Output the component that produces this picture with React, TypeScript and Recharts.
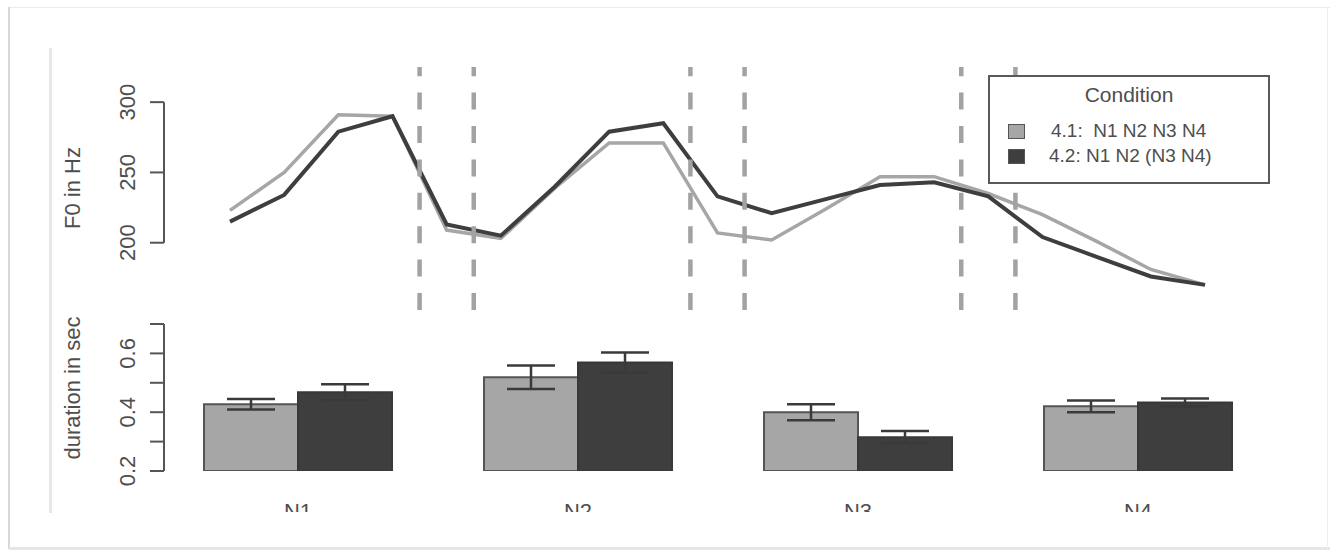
import React from "react";
import { LineChart, Line, XAxis, YAxis, ReferenceLine, Legend, BarChart, Bar, ErrorBar } from "recharts";

// F0 contour, 19 measurement steps over the four nuclei
const steps = [0, 1, 2, 3, 4, 5, 6, 7, 8, 9, 10, 11, 12, 13, 14, 15, 16, 17, 18];
const f0Cond1 = [223, 250, 291, 290, 209, 203, 239, 271, 271, 207, 202, 224, 247, 247, 235, 220, 201, 181, 170];
const f0Cond2 = [215, 234, 279, 290, 213, 205, 240, 279, 285, 233, 221, 231, 241, 243, 233, 204, 190, 176, 170];
const boundaries = [3.5, 4.5, 8.5, 9.5, 13.5, 14.5];
const f0Ticks = [200, 250, 300];

// durations per nucleus
const nuclei = ["N1", "N2", "N3", "N4"];
const durCond1 = [0.427, 0.519, 0.4, 0.42];
const durCond2 = [0.468, 0.569, 0.315, 0.433];
const seCond1 = [0.018, 0.04, 0.027, 0.02];
const seCond2 = [0.027, 0.034, 0.021, 0.014];
const durTicks = [0.2, 0.3, 0.4, 0.5, 0.6, 0.7];
const durLabelled = [0.2, 0.4, 0.6];

const legendTitle = "Condition";
const legendLabels = ["4.1:  N1 N2 N3 N4", "4.2: N1 N2 (N3 N4)"];

const LIGHT = "#a6a6a6";
const DARK = "#3e3e3e";
const TXT = "#4e4e4e";
const FONT = "'Liberation Sans', Arial, Helvetica, sans-serif";

const f0Data = steps.map((s, i) => ({ step: s, c1: f0Cond1[i], c2: f0Cond2[i] }));
const durData = nuclei.map((n, i) => ({
  name: n,
  d1: durCond1[i],
  d2: durCond2[i],
  e1: seCond1[i],
  e2: seCond2[i],
}));

// x domain so that step 0 sits at 230px and step 18 at 1205px
const X_MIN = -1.2185;
const X_MAX = 19.2;

function RotTick(props: any) {
  const { x, y, payload, show } = props;
  if (show && !show.includes(payload.value)) return null;
  const bx = x - 13;
  return (
    <text
      x={bx}
      y={y}
      transform={`rotate(-90 ${bx} ${y})`}
      textAnchor="middle"
      fill={TXT}
      fontSize={22}
      fontFamily={FONT}
    >
      {String(payload.value)}
    </text>
  );
}

function AxisTitle({ cx, cy, text }: any) {
  return (
    <text
      x={cx}
      y={cy}
      transform={`rotate(-90 ${cx} ${cy})`}
      textAnchor="middle"
      fill={TXT}
      fontSize={22}
      fontFamily={FONT}
    >
      {text}
    </text>
  );
}

function NucleusTick(props: any) {
  const { x, payload } = props;
  return (
    <text x={x} y={219} textAnchor="middle" fill={TXT} fontSize={22} fontFamily={FONT}>
      {payload.value}
    </text>
  );
}

function LegendBox() {
  const sw = (c: string) => ({
    width: 15,
    height: 13,
    background: c,
    border: "1.5px solid #555",
    display: "inline-block",
    marginRight: 24,
  });
  return (
    <div
      style={{
        width: 278,
        height: 105,
        border: "2px solid #5a5a5a",
        background: "#fff",
        fontFamily: FONT,
        color: TXT,
        position: "relative",
      }}
    >
      <div style={{ position: "absolute", top: 6, width: "100%", textAlign: "center", fontSize: 21 }}>
        {legendTitle}
      </div>
      {legendLabels.map((l, i) => (
        <div
          key={l}
          style={{
            position: "absolute",
            left: 18,
            top: 43 + i * 25,
            fontSize: 19,
            whiteSpace: "pre",
            display: "flex",
            alignItems: "center",
          }}
        >
          <span style={sw(i === 0 ? LIGHT : DARK)} />
          <span style={{ marginLeft: i === 0 ? 2 : 0 }}>{l}</span>
        </div>
      ))}
    </div>
  );
}

export default function App() {
  return (
    <div style={{ position: "absolute", left: 0, top: 0, width: 1330, height: 550, background: "#fff", overflow: "hidden" }}>
      {/* screenshot frame */}
      <div style={{ position: "absolute", left: 9, top: 7, width: 1322, height: 1, background: "#ececec" }} />
      <div style={{ position: "absolute", left: 8, top: 7, width: 2, height: 542, background: "#d8d8d8" }} />
      <div style={{ position: "absolute", left: 9, top: 547, width: 1322, height: 3, background: "#e6e6e6" }} />
      <div style={{ position: "absolute", left: 1327, top: 7, width: 1, height: 542, background: "#efefef" }} />
      <div style={{ position: "absolute", left: 49, top: 48, width: 3, height: 465, background: "#e8e8e8" }} />

      <div style={{ position: "absolute", left: 0, top: 0, width: 1330, height: 512, overflow: "hidden" }}>
        <div style={{ position: "absolute", left: 0, top: 0 }}>
          <LineChart width={1330} height={320} data={f0Data} margin={{ top: 67, right: 60, bottom: 10, left: 0 }}>
            <XAxis dataKey="step" type="number" domain={[X_MIN, X_MAX]} hide allowDataOverflow />
            <YAxis
              width={164}
              domain={[152.14, 325]}
              ticks={f0Ticks}
              axisLine={false}
              tickSize={14}
              tickLine={{ stroke: "#555", strokeWidth: 2 }}
              tick={<RotTick />}
              allowDataOverflow
              label={<AxisTitle cx={80} cy={188} text="F0 in Hz" />}
            />
            <ReferenceLine
              segment={[
                { x: X_MIN, y: f0Ticks[0] },
                { x: X_MIN, y: f0Ticks[f0Ticks.length - 1] },
              ]}
              stroke="#555"
              strokeWidth={2}
              ifOverflow="visible"
            />
            <Line type="linear" dataKey="c1" stroke={LIGHT} strokeWidth={3.5} dot={false} isAnimationActive={false} />
            <Line type="linear" dataKey="c2" stroke={DARK} strokeWidth={4} dot={false} isAnimationActive={false} />
            {boundaries.map((b) => (
              <ReferenceLine key={b} x={b} stroke="#a2a2a2" strokeWidth={4.5} strokeDasharray="17 16.4" />
            ))}
            <Legend
              layout="vertical"
              align="center"
              verticalAlign="middle"
              content={<LegendBox />}
              wrapperStyle={{ position: "absolute", left: 988, top: 75, width: 282, height: 109 }}
            />
          </LineChart>
        </div>

        <div style={{ position: "absolute", left: 0, top: 300 }}>
          <BarChart
            width={1330}
            height={230}
            data={durData}
            margin={{ top: 24, right: 52, bottom: 19, left: 0 }}
            barCategoryGap={46}
            barGap={0}
          >
            <XAxis
              dataKey="name"
              height={40}
              axisLine={false}
              tickLine={false}
              padding={{ left: -6, right: 0 }}
              tick={<NucleusTick />}
            />
            <YAxis
              width={164}
              domain={[0.2, 0.7]}
              ticks={durTicks}
              allowDataOverflow
              axisLine={{ stroke: "#555", strokeWidth: 2 }}
              tickSize={14}
              tickLine={{ stroke: "#555", strokeWidth: 2 }}
              tick={<RotTick show={durLabelled} />}
              label={<AxisTitle cx={80} cy={88} text="duration in sec" />}
            />
            <Bar dataKey="d1" fill={LIGHT} stroke="#555" strokeWidth={2} isAnimationActive={false}>
              <ErrorBar dataKey="e1" width={24} stroke="#3a3a3a" strokeWidth={2.5} direction="y" />
            </Bar>
            <Bar dataKey="d2" fill={DARK} stroke="#383838" strokeWidth={2} isAnimationActive={false}>
              <ErrorBar dataKey="e2" width={24} stroke="#3a3a3a" strokeWidth={2.5} direction="y" />
            </Bar>
          </BarChart>
        </div>
      </div>
    </div>
  );
}
